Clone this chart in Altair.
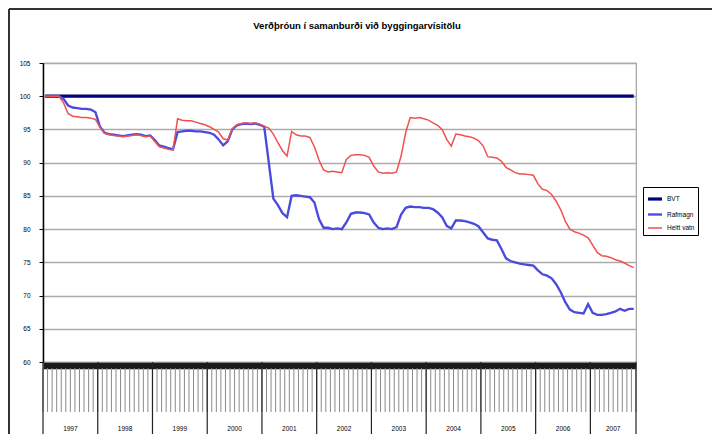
import altair as alt
import pandas as pd

# ---------------- data ----------------
title_text = "Verðþróun í samanburði við byggingarvísitölu"
series_names = ["BVT", "Rafmagn", "Heitt vatn"]
years = ["1997", "1998", "1999", "2000", "2001", "2002", "2003", "2004", "2005", "2006", "2007"]
year_start_month = [0, 12, 24, 36, 48, 60, 72, 84, 96, 108, 120]
last_month_end = 130  # Jan 1997 .. Oct 2007 = 130 monthly categories
y_ticks = [60, 65, 70, 75, 80, 85, 90, 95, 100, 105]

bvt = [
    100, 100, 100, 100, 100, 100, 100, 100, 100, 100,
    100, 100, 100, 100, 100, 100, 100, 100, 100, 100,
    100, 100, 100, 100, 100, 100, 100, 100, 100, 100,
    100, 100, 100, 100, 100, 100, 100, 100, 100, 100,
    100, 100, 100, 100, 100, 100, 100, 100, 100, 100,
    100, 100, 100, 100, 100, 100, 100, 100, 100, 100,
    100, 100, 100, 100, 100, 100, 100, 100, 100, 100,
    100, 100, 100, 100, 100, 100, 100, 100, 100, 100,
    100, 100, 100, 100, 100, 100, 100, 100, 100, 100,
    100, 100, 100, 100, 100, 100, 100, 100, 100, 100,
    100, 100, 100, 100, 100, 100, 100, 100, 100, 100,
    100, 100, 100, 100, 100, 100, 100, 100, 100, 100,
    100, 100, 100, 100, 100, 100, 100, 100, 100, 100,
]

rafmagn = [
    100, 100, 100, 100, 99.6, 98.6, 98.3, 98.2, 98.1, 98.1,
    98.0, 97.6, 95.4, 94.5, 94.3, 94.2, 94.1, 94.0, 94.1, 94.2,
    94.3, 94.2, 94.0, 94.1, 93.4, 92.6, 92.4, 92.2, 92.0, 94.6,
    94.7, 94.8, 94.8, 94.7, 94.7, 94.6, 94.5, 94.2, 93.5, 92.6,
    93.2, 95.0, 95.6, 95.8, 95.9, 95.8, 95.9, 95.7, 95.4, 90.0,
    84.6, 83.6, 82.4, 81.8, 85.0, 85.1, 85.0, 84.9, 84.8, 84.0,
    81.5, 80.2, 80.2, 80.0, 80.1, 80.0, 81.0, 82.3, 82.5, 82.5,
    82.4, 82.2, 81.0, 80.2, 80.0, 80.1, 80.0, 80.3, 82.2, 83.2,
    83.4, 83.3, 83.3, 83.2, 83.2, 83.0, 82.5, 81.8, 80.5, 80.1,
    81.3, 81.3, 81.2, 81.0, 80.8, 80.4, 79.5, 78.6, 78.4, 78.3,
    77.0, 75.6, 75.2, 75.0, 74.8, 74.7, 74.6, 74.5, 73.8, 73.2,
    73.0, 72.6, 71.7, 70.5, 69.0, 67.9, 67.5, 67.4, 67.3, 68.7,
    67.4, 67.1, 67.1, 67.2, 67.4, 67.6, 68.0, 67.7, 68.0, 68.0,
]

heitt_vatn = [
    100, 100, 100, 100, 99.0, 97.4, 97.0, 96.9, 96.8, 96.8,
    96.7, 96.5, 95.3, 94.4, 94.2, 94.1, 94.0, 93.9, 94.0, 94.1,
    94.2, 94.1, 93.9, 94.0, 93.2, 92.4, 92.2, 92.0, 91.9, 96.6,
    96.4, 96.3, 96.3, 96.1, 95.9, 95.7, 95.4, 95.0, 94.6, 93.6,
    93.4, 95.1, 95.7, 95.9, 96.0, 95.9, 96.0, 95.8, 95.5, 95.2,
    94.3, 93.0, 91.8, 91.0, 94.7, 94.2, 94.0, 94.0, 93.8, 92.4,
    90.4, 88.9, 88.6, 88.7, 88.6, 88.5, 90.5, 91.1, 91.2, 91.2,
    91.1, 90.8, 89.5, 88.6, 88.4, 88.5, 88.4, 88.6, 91.0, 94.5,
    96.8, 96.7, 96.8, 96.6, 96.4, 96.0, 95.6, 95.0, 93.5, 92.5,
    94.3, 94.2, 94.0, 93.9, 93.7, 93.3, 92.5, 90.9, 90.8, 90.7,
    90.2, 89.3, 88.9, 88.5, 88.3, 88.3, 88.2, 88.1, 86.8, 86.0,
    85.8, 85.2, 84.2, 82.9, 81.2, 80.0, 79.6, 79.4, 79.1, 78.7,
    77.6, 76.5, 76.0, 75.9, 75.7, 75.4, 75.2, 74.9, 74.5, 74.2,
]

colors = ["#000080", "#4a4ade", "#f05050"]
widths = [3.2, 1.5, 1.5]

# ---------------- tables ----------------
rows = []
for name, vals in zip(series_names, [bvt, rafmagn, heitt_vatn]):
    for i, v in enumerate(vals):
        rows.append({"serie": name, "m": i + 0.5, "v": v, "order": i})
df = pd.DataFrame(rows)

bounds = year_start_month + [last_month_end]
df_bounds = pd.DataFrame({"b": bounds})
df_months = pd.DataFrame({"b": list(range(last_month_end + 1))})
mids = [(s + e) / 2 for s, e in zip(bounds[:-1], bounds[1:])]
df_years = pd.DataFrame({"year": years, "mid": mids})
df_title = pd.DataFrame({"t": [title_text]})

FONT = "Liberation Sans"

x_scale = alt.Scale(domain=[0, last_month_end], nice=False, zero=False)
y_scale = alt.Scale(domain=[60, 105], nice=False, zero=False)

legend_cfg = dict(title=None, orient="none", legendX=600, legendY=124,
                  strokeColor="black", fillColor="white", padding=3,
                  symbolType="stroke", symbolSize=196, rowPadding=0,
                  labelFontSize=6.5, labelColor="black", labelOffset=3)

lines = alt.Chart(df).mark_line(clip=False).encode(
    x=alt.X("m:Q", scale=x_scale,
            axis=alt.Axis(labels=False, ticks=False,
                          domainColor="#1a1a1a", domainWidth=6.5, offset=3.5,
                          grid=False, title=None)),
    y=alt.Y("v:Q", scale=y_scale,
            axis=alt.Axis(values=y_ticks, grid=True, gridColor="#ababab", gridWidth=1.6,
                          tickColor="black", tickSize=4, labelFontSize=6.5,
                          labelPadding=9, domainColor="black", domainWidth=1.5,
                          labelColor="black", title=None)),
    color=alt.Color("serie:N", sort=series_names,
                    scale=alt.Scale(domain=series_names, range=colors),
                    legend=alt.Legend(**legend_cfg)),
    strokeWidth=alt.StrokeWidth("serie:N", sort=series_names,
                                scale=alt.Scale(domain=series_names, range=widths),
                                legend=alt.Legend(**legend_cfg)),
    order="order:Q",
)

month_ticks = alt.Chart(df_months).mark_rule(color="#8a8a8a", strokeWidth=1).encode(
    x=alt.X("b:Q", scale=x_scale),
    y=alt.value(305),
    y2=alt.value(349),
)

year_rules = alt.Chart(df_bounds).mark_rule(color="#222222", strokeWidth=1.2).encode(
    x=alt.X("b:Q", scale=x_scale),
    y=alt.value(299),
    y2=alt.value(371),
)

year_text = alt.Chart(df_years).mark_text(fontSize=6.5, color="black", font=FONT,
                                          baseline="middle").encode(
    x=alt.X("mid:Q", scale=x_scale),
    y=alt.value(365.5),
    text="year:N",
)

title_mark = alt.Chart(df_title).mark_text(fontSize=9.5, fontWeight="bold", color="black",
                                           font=FONT, baseline="middle").encode(
    x=alt.value(314), y=alt.value(-37), text="t:N"
)

frame_left = alt.Chart(df_title).mark_rule(color="#333333", strokeWidth=2).encode(
    x=alt.value(-34), y=alt.value(-54), y2=alt.value(371)
)
frame_top = alt.Chart(df_title).mark_rule(color="#333333", strokeWidth=2).encode(
    x=alt.value(-34), x2=alt.value(669), y=alt.value(-54)
)

chart = alt.layer(month_ticks, year_rules, lines, year_text, title_mark,
                  frame_left, frame_top).properties(
    width=593,
    height=299,
    autosize=alt.AutoSizeParams(type="none"),
    padding={"left": 35, "top": 55, "right": 77, "bottom": 73},
).configure(font=FONT).configure_view(stroke="#a0a0a0", strokeWidth=1.2)

chart.save("out.html", embed_options={"renderer": "svg", "actions": False})
